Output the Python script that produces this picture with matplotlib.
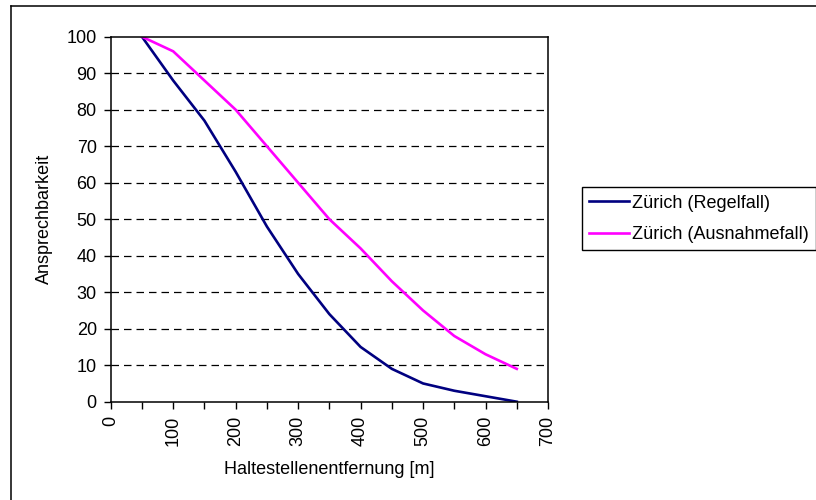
import matplotlib
matplotlib.use("Agg")
import matplotlib.pyplot as plt
from matplotlib.lines import Line2D

distance = [50, 100, 150, 200, 250, 300, 350, 400, 450, 500, 550, 600, 650]
regelfall = [100, 88, 77, 63, 48, 35, 24, 15, 9, 5, 3, 1.5, 0]
ausnahmefall = [100, 96, 88, 80, 70, 60, 50, 42, 33, 25, 18, 13, 9]
series_labels = ["Zürich (Regelfall)", "Zürich (Ausnahmefall)"]
x_ticks = [0, 100, 200, 300, 400, 500, 600, 700]
y_ticks = [0, 10, 20, 30, 40, 50, 60, 70, 80, 90, 100]

plt.rcParams['font.family'] = ['Liberation Sans', 'DejaVu Sans']
plt.rcParams['font.size'] = 13

W, H = 816, 500
fig = plt.figure(figsize=(W / 100, H / 100), dpi=100)
ax = fig.add_axes([110.7 / W, 1 - 401.7 / H, (548 - 110.7) / W, (401.7 - 36.7) / H])

ax.plot(distance, regelfall, color='#000080', lw=1.9, label=series_labels[0], solid_joinstyle='round')
ax.plot(distance, ausnahmefall, color='#FF00FF', lw=1.9, label=series_labels[1], solid_joinstyle='round')

ax.set_xlim(0, 700)
ax.set_ylim(0, 100)
ax.set_xticks(x_ticks)
ax.set_xticks(list(range(50, 700, 100)), minor=True)
ax.set_yticks(y_ticks)
ax.set_xticklabels([str(v) for v in x_ticks], rotation=90)
ax.tick_params(axis='both', which='both', direction='out', length=5, width=1, color='black')
ax.tick_params(axis='x', which='major', pad=5)
ax.tick_params(axis='y', which='major', pad=5)

for v in y_ticks[1:-1]:
    ax.axhline(v, color='black', lw=0.9, dashes=(6, 4), zorder=0.5)

for s in ax.spines.values():
    s.set_linewidth(1.1)
    s.set_color('black')

ax.set_xlabel("Haltestellenentfernung [m]", labelpad=11)
ax.set_ylabel("Ansprechbarkeit", labelpad=10)

# outer chart frame
fig.add_artist(Line2D([11 / W, 11 / W], [1 - 6 / H, -0.1], color='black', lw=1.1, transform=fig.transFigure))
fig.add_artist(Line2D([11 / W, 1.1], [1 - 6 / H, 1 - 6 / H], color='black', lw=1.1, transform=fig.transFigure))

leg = fig.legend(loc='upper left', bbox_to_anchor=(581.7 / W, 1 - 187.3 / H),
                 frameon=True, fancybox=False, framealpha=1, edgecolor='black',
                 handlelength=2.2, handletextpad=0.2, borderpad=0.4, labelspacing=0.8,
                 borderaxespad=0, handleheight=0.7)
leg.get_frame().set_linewidth(1.0)

fig.savefig("out.png", dpi=100)
